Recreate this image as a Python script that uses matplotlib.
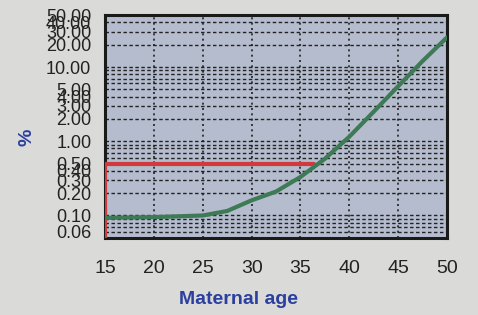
import matplotlib
matplotlib.use("Agg")
import matplotlib.pyplot as plt
from matplotlib.ticker import FixedLocator, FixedFormatter, LogLocator, NullFormatter

plt.rcParams['font.family'] = ['Liberation Sans', 'DejaVu Sans']

# data
ages = [15, 20, 25, 27.5, 30, 32.5, 35, 37.5, 40, 42.5, 45, 47.5, 50]
risk_pct = [0.093, 0.095, 0.10, 0.115, 0.16, 0.21, 0.33, 0.58, 1.15, 2.5, 5.5, 12, 25]
ref_age = 36.4
ref_risk = 0.5
x_ticks = [15, 20, 25, 30, 35, 40, 45, 50]
y_ticks = [0.06, 0.1, 0.2, 0.3, 0.4, 0.5, 1, 2, 3, 4, 5, 10, 20, 30, 40, 50]
y_tick_labels = ['%.2f' % v for v in y_ticks]

fig = plt.figure(figsize=(4.78, 3.15), dpi=100, facecolor='#dadad8')
ax = fig.add_axes([0.22, 0.245, 0.715, 0.707])
ax.set_facecolor('#b4bccd')

ax.set_yscale('log')
ax.set_xlim(15, 50)
ax.set_ylim(0.05, 50)

ax.yaxis.set_major_locator(FixedLocator(y_ticks))
ax.yaxis.set_major_formatter(FixedFormatter(y_tick_labels))
ax.yaxis.set_minor_locator(LogLocator(base=10, subs=range(1, 10), numticks=20))
ax.yaxis.set_minor_formatter(NullFormatter())
ax.xaxis.set_major_locator(FixedLocator(x_ticks))

ax.grid(True, which='both', axis='y', color='#222222', linestyle=(0, (2.5, 1.8)), linewidth=1.0)
ax.grid(True, which='major', axis='x', color='#222222', linestyle=(0, (1.2, 2.0)), linewidth=1.2)
ax.set_axisbelow(True)

# reference lines (red)
ax.plot([ref_age, ages[0], ages[0]], [ref_risk, ref_risk, 0.05], color='#d03a3a', lw=3, solid_capstyle='round', zorder=3)
# risk curve (green)
ax.plot(ages, risk_pct, color='#3d7a55', lw=3, zorder=4, solid_capstyle='round')

for s in ax.spines.values():
    s.set_linewidth(2.2)
    s.set_color('#1a1a1a')

ax.tick_params(axis='both', which='both', length=0)
ax.tick_params(axis='y', labelsize=13, pad=10, colors='#222222')
ax.tick_params(axis='x', labelsize=14, pad=16, colors='#222222')

ax.set_xlabel('Maternal age', fontsize=14, fontweight='bold', color='#2b3f9e')
ax.xaxis.set_label_coords((238 - 105) / 342, -0.24)
ax.set_ylabel('%', fontsize=14, fontweight='bold', color='#2b3f9e', rotation=90)
ax.yaxis.set_label_coords(-0.205, 0.45)

fig.savefig('out.png', dpi=100, facecolor=fig.get_facecolor())
